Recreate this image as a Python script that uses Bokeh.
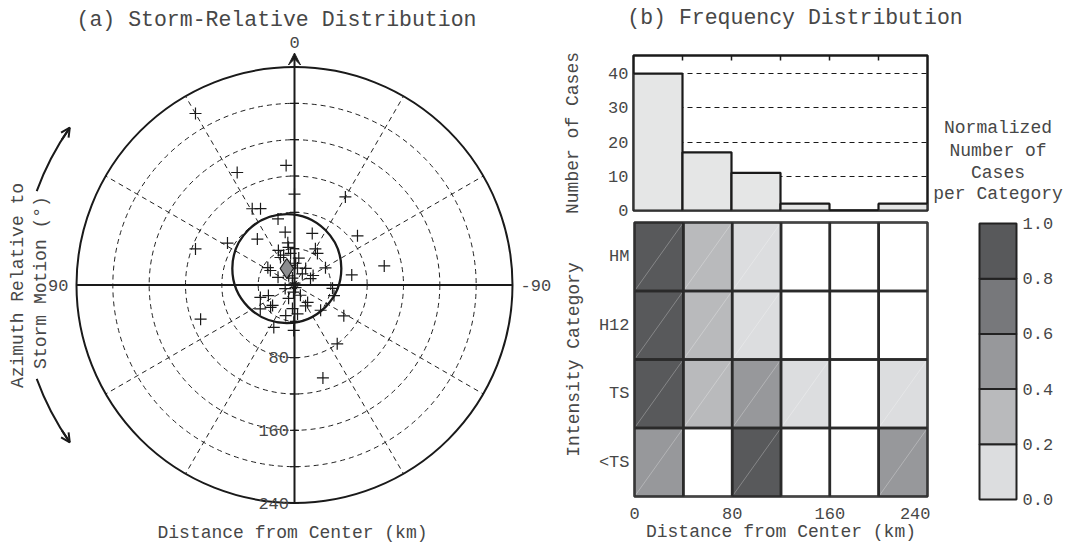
import numpy as np
from bokeh.plotting import figure
from bokeh.layouts import row, column
from bokeh.models import (Range1d, FixedTicker, Arrow,
                          VeeHead, OpenHead, LinearColorMapper, ColumnDataSource)
from bokeh.core.properties import value
from bokeh.embed import file_html
from bokeh.resources import INLINE

# ---------------- data ----------------
# (a) storm-relative positions: azimuth (deg, CCW from storm motion) and distance (km)
azimuth_deg = [30, 27, 4, 0, -30, 29, 24, 14, 58, 70, -52, -78, -80, 110, -122, -144,
               -163, 154, 179, -95, -105, -134, -19, 10, 39, 9, 9, 25, 27, -30, -36,
               -9, -3, 57, 59, -61, -34, -35, -63, -68, 65, 32, 17, -158, 172, 111,
               110, 112, 156, -143, -152, 133, 125, 175, 164, -174, 133, 179, 7, 20,
               -10, 12, -150, 0]
distance_km = [218, 139, 132, 100, 112, 96, 92, 75, 87, 116, 88, 101, 64, 110, 64, 80,
               107, 52, 50, 42, 45, 40, 60, 59, 65, 47, 42, 42, 34, 46, 43,
               30, 24, 35, 31, 39, 22, 15, 23, 19, 20, 12, 8, 3, 8, 11,
               40, 31, 16, 24, 26, 36, 46, 26, 35, 32, 33, 41, 35, 35,
               19, 22, 13, 2]
mean_azimuth_deg = 25
mean_distance_km = 20
spread_radius_km = 60

ring_km = [40, 80, 120, 160, 200]
outer_km = 240
spoke_deg = [30, 60, 120, 150, 210, 240, 300, 330]
axis_tick_km = [40, 80, 120, 160, 200, 240]
radial_label_km = [80, 160, 240]
radial_labels = ["80", "160", "240"]

# (b) frequency distribution
hist_edges = [0, 40, 80, 120, 160, 200, 240]
hist_counts = [40, 17, 11, 2, 0, 2]

categories = ["<TS", "TS", "H12", "HM"]
norm_lt_ts = [0.5, 0.0, 1.0, 0.0, 0.0, 0.5]
norm_ts = [1.0, 0.3, 0.5, 0.1, 0.0, 0.1]
norm_h12 = [1.0, 0.3, 0.1, 0.0, 0.0, 0.0]
norm_hm = [1.0, 0.3, 0.1, 0.0, 0.0, 0.0]
level_edges = [0.0, 0.2, 0.4, 0.6, 0.8, 1.0]
level_labels = ["0.0", "0.2", "0.4", "0.6", "0.8", "1.0"]
palette = ["#dcdddf", "#b9babc", "#97989b", "#77787b", "#58595b"]
cbar_title_lines = ["Normalized", "Number of", "Cases", "per Category"]

# ---------------- style ----------------
FONT = value("Liberation Mono")
FONTN = "Liberation Mono"
TXT = "#474747"
INK = "#1a1a1a"

def polar_xy(az, r):
    a = np.radians(np.asarray(az, dtype=float))
    r = np.asarray(r, dtype=float)
    return -r * np.sin(a), r * np.cos(a)

def base_fig(**kw):
    f = figure(toolbar_location=None, output_backend="svg", **kw)
    try:
        f.frame_align = False
    except Exception:
        pass
    return f

def ptext(fig, x, y, t, size="17px", align="center", baseline="middle", angle=0.0):
    fig.text(x=x, y=y, text=t, text_font=FONT, text_font_size=size, text_color=TXT,
             text_align=align, text_baseline=baseline, angle=angle)

# ---------------- (a) polar panel ----------------
W, H = 560, 544
CX, CY = 294.0, 284.5
S = 218.0 / 240.0   # px per km
p1 = base_fig(width=W, height=H,
              x_range=Range1d(-CX / S, (W - CX) / S),
              y_range=Range1d(-(H - CY) / S, CY / S),
              x_axis_type=None, y_axis_type=None, min_border=0,
              outline_line_color=None)

n = len(ring_km)
p1.circle(x=[0] * n, y=[0] * n, radius=ring_km, fill_color=None,
          line_color="#222222", line_width=1, line_dash="5 4")
sx, sy = polar_xy(spoke_deg, [outer_km] * len(spoke_deg))
p1.segment(x0=[0] * len(sx), y0=[0] * len(sx), x1=sx, y1=sy,
           line_color="#222222", line_width=1, line_dash="5 4")
p1.circle(x=[0], y=[0], radius=[outer_km], fill_color=None, line_color=INK, line_width=2)
p1.segment(x0=[-outer_km], y0=[0], x1=[outer_km], y1=[0], line_color=INK, line_width=2)

tk = np.array(axis_tick_km, dtype=float)
half = 4.5 / S
p1.segment(x0=np.full(2 * len(tk), -half), y0=np.concatenate([tk, -tk]),
           x1=np.full(2 * len(tk), half), y1=np.concatenate([tk, -tk]),
           line_color=INK, line_width=1.2)

p1.add_layout(Arrow(end=VeeHead(size=12, fill_color=INK, line_color=INK, line_width=1),
                    x_start=0, y_start=-outer_km, x_end=0, y_end=outer_km + 14 / S,
                    line_color=INK, line_width=2))

mx, my = polar_xy([mean_azimuth_deg], [mean_distance_km])
p1.circle(x=mx, y=my, radius=[spread_radius_km], fill_color=None, line_color=INK, line_width=2.3)

px_, py_ = polar_xy(azimuth_deg, distance_km)
p1.scatter(x=px_, y=py_, marker="cross", size=12, line_color=INK, line_width=1.2)
p1.scatter(x=mx, y=my, marker="diamond", size=20, fill_color="#8c8d8f",
           line_color=INK, line_width=1.2)

# side curved arrows (arcs about the centre)
RA = 302
p1.arc(x=[0, 0], y=[0, 0], radius=[RA, RA],
       start_angle=[np.radians(145), np.radians(200)],
       end_angle=[np.radians(160), np.radians(215)],
       line_color=INK, line_width=2)
for a0, a1 in [(148, 145), (212, 215)]:
    p1.add_layout(Arrow(end=OpenHead(size=9, line_color=INK, line_width=2),
                        x_start=RA * np.cos(np.radians(a0)), y_start=RA * np.sin(np.radians(a0)),
                        x_end=RA * np.cos(np.radians(a1)), y_end=RA * np.sin(np.radians(a1)),
                        line_color=INK, line_width=2))

ptext(p1, [0], [(CY - 42) / S], ["0"])
ptext(p1, [-(outer_km + 8 / S)], [0], ["90"], align="right")
ptext(p1, [outer_km + 8 / S], [0], ["-90"], align="left")
ptext(p1, [-5.5 / S] * 3, [-k for k in radial_label_km], radial_labels, align="right")
ptext(p1, [(276 - CX) / S], [(CY - 19) / S], ["(a) Storm-Relative Distribution"], size="21.5px")
ptext(p1, [(292 - CX) / S], [(CY - 532) / S], ["Distance from Center (km)"], size="18px")
ptext(p1, [(17 - CX) / S], [(CY - 285) / S], ["Azimuth Relative to"], size="18px", angle=np.pi / 2)
ptext(p1, [(40 - CX) / S], [(CY - 282) / S], ["Storm Motion (°)"], size="18px", angle=np.pi / 2)

# ---------------- (b) title strip ----------------
TH = 36
tfig = base_fig(width=506, height=TH, x_range=Range1d(560, 1066), y_range=Range1d(TH, 0),
                x_axis_type=None, y_axis_type=None, min_border=0, outline_line_color=None)
ptext(tfig, [794.5], [17], ["(b) Frequency Distribution"], size="21.5px")

# ---------------- (b) histogram ----------------
HIST_TOP = 45.3
hist = base_fig(width=370, height=184, x_range=Range1d(0, 240), y_range=Range1d(0, HIST_TOP),
                min_border_left=70, min_border_right=3, min_border_top=19, min_border_bottom=10,
                x_axis_location=None,
                outline_line_color=INK, outline_line_width=2.5)
hist.quad(left=hist_edges[:-1], right=hist_edges[1:], bottom=[0] * len(hist_counts),
          top=hist_counts, fill_color="#e5e6e6", line_color=INK, line_width=2.2)
hist.xgrid.visible = False
hist.ygrid.ticker = FixedTicker(ticks=[10, 20, 30, 40])
hist.ygrid.grid_line_color = INK
hist.ygrid.grid_line_dash = "5 4"
hist.ygrid.grid_line_width = 1
PXU = 155.0 / HIST_TOP
inner_edges = hist_edges[1:-1]
hist.segment(x0=inner_edges, y0=[HIST_TOP] * len(inner_edges),
             x1=inner_edges, y1=[HIST_TOP - 5 / PXU] * len(inner_edges),
             line_color=INK, line_width=1.5)
ya = hist.yaxis[0]
ya.ticker = FixedTicker(ticks=[0, 10, 20, 30, 40])
ya.major_tick_in = 0
ya.major_tick_out = 0
ya.minor_tick_line_color = None
ya.axis_line_color = None
ya.major_label_text_font = FONTN
ya.major_label_text_font_size = "17px"
ya.major_label_text_color = TXT
ya.major_label_standoff = 5
ya.axis_label = "Number of Cases"
ya.axis_label_text_font = FONTN
ya.axis_label_text_font_size = "18px"
ya.axis_label_text_font_style = "normal"
ya.axis_label_text_color = TXT
ya.axis_label_standoff = 22

# ---------------- (b) heat map ----------------
rows = [norm_lt_ts, norm_ts, norm_h12, norm_hm]
cx, cy, cv, x0, x1, y0, y1 = [], [], [], [], [], [], []
for i, vals in enumerate(rows):
    for j, v in enumerate(vals):
        cx.append((hist_edges[j] + hist_edges[j + 1]) / 2)
        cy.append(i + 0.5)
        cv.append(v)
        if v > 0:
            x0.append(hist_edges[j]); x1.append(hist_edges[j + 1])
            y0.append(i); y1.append(i + 1)
src = ColumnDataSource(dict(x=cx, y=cy, v=cv))
mapper = LinearColorMapper(palette=palette, low=1e-6, high=1.0, low_color="white")

heat = base_fig(width=370, height=324, x_range=Range1d(0, 240), y_range=Range1d(0, 4),
                min_border_left=70, min_border_right=3, min_border_top=2, min_border_bottom=46,
                outline_line_color="#2a2a2a", outline_line_width=2.5)
heat.rect(x="x", y="y", width=40, height=1, source=src,
          fill_color={"field": "v", "transform": mapper}, line_color=None)
heat.segment(x0=x0, y0=y0, x1=x1, y1=y1, line_color="white", line_alpha=0.35, line_width=0.8)
heat.rect(x="x", y="y", width=40, height=1, source=src, fill_color=None,
          line_color="#2a2a2a", line_width=2.5)
heat.grid.visible = False
hx = heat.xaxis[0]
hx.ticker = FixedTicker(ticks=[0, 80, 160, 240])
hy = heat.yaxis[0]
hy.ticker = FixedTicker(ticks=[0.5, 1.5, 2.5, 3.5])
hy.major_label_overrides = {0.5: categories[0], 1.5: categories[1],
                            2.5: categories[2], 3.5: categories[3]}
for ax in (hx, hy):
    ax.major_tick_in = 0
    ax.major_tick_out = 0
    ax.minor_tick_line_color = None
    ax.axis_line_color = None
    ax.major_label_text_font = FONTN
    ax.major_label_text_font_size = "17px"
    ax.major_label_text_color = TXT
    ax.axis_label_text_font = FONTN
    ax.axis_label_text_font_size = "18px"
    ax.axis_label_text_font_style = "normal"
    ax.axis_label_text_color = TXT
hx.major_label_standoff = 11
hx.axis_label = "Distance from Center (km)"
hx.axis_label_standoff = 0
hy.major_label_standoff = 5
hy.axis_label = "Intensity Category"
hy.axis_label_standoff = 12

# ---------------- colour bar (bar spans value 0..1, labelled at the level edges) ----------------
CBH = 544 - TH                 # canvas height
BAR_L, BAR_W = 49.0, 37.0      # bar left offset / width in px
BAR_BOT, BAR_H = 463.0, 276.0  # bar bottom (from canvas top) / height in px
CBW = 136
cb = base_fig(width=CBW, height=CBH,
              x_range=Range1d(-BAR_L / BAR_W, (CBW - BAR_L) / BAR_W),
              y_range=Range1d(-(CBH - BAR_BOT) / BAR_H, BAR_BOT / BAR_H),
              x_axis_type=None, y_axis_type=None, min_border=0, outline_line_color=None)
cb.quad(left=[0] * len(palette), right=[1] * len(palette), bottom=level_edges[:-1],
        top=level_edges[1:], fill_color=palette, line_color="#222222", line_width=2)
ptext(cb, [1 + 6 / BAR_W] * len(level_edges), level_edges, level_labels, align="left")
title_px = [127, 150, 172, 193]   # line centres, page px
ptext(cb, [0.5] * len(cbar_title_lines), [(499 - v) / BAR_H for v in title_px],
      cbar_title_lines, size="18px")

layout = row(p1, column(tfig, row(column(hist, heat), cb)))
open("out.html", "w").write(file_html(layout, INLINE))
